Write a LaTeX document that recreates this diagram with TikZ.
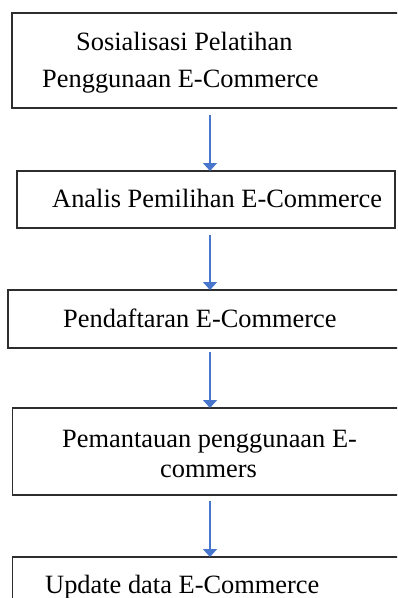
\documentclass[tikz,border=0pt]{standalone}
\usepackage{fontspec}
\setmainfont{Liberation Serif}
\usetikzlibrary{arrows.meta}
\definecolor{arrblue}{RGB}{72,118,204}
\definecolor{boxline}{RGB}{45,45,45}
\begin{document}
\begin{tikzpicture}[x=1pt,y=-1pt,
  stepbox/.style={draw=boxline,line width=1.4pt,rectangle,inner sep=0pt,outer sep=0pt},
  lbl/.style={anchor=base west,inner sep=0pt,font=\fontsize{26.4}{30}\selectfont},
  arr/.style={draw=arrblue,line width=1.6pt,-{Triangle[width=14pt,length=8pt]}}]
\useasboundingbox (0,0) rectangle (397,598);
\clip (0,0) rectangle (397,598);
\fill[white] (0,0) rectangle (397,598);
% boxes
\node[stepbox,minimum width=393pt,minimum height=95pt] (b1) at (208.5,60.5) {};
\node[stepbox,minimum width=378pt,minimum height=57pt] (b2) at (206,199.5) {};
\node[stepbox,minimum width=397pt,minimum height=58pt] (b3) at (206.5,319) {};
\node[stepbox,minimum width=392.5pt,minimum height=87pt] (b4) at (208.75,451.5) {};
\node[stepbox,minimum width=392.5pt,minimum height=63pt] (b5) at (208.75,588.5) {};
% texts
\node[lbl] (t1a) at (76,50) {Sosialisasi Pelatihan};
\node[lbl] (t1b) at (42,87) {Penggunaan E-Commerce};
\node[lbl] (t2) at (52,207) {Analis Pemilihan E-Commerce};
\node[lbl] (t3) at (63,327) {Pendaftaran E-Commerce};
\node[lbl] (t4a) at (62,447) {Pemantauan penggunaan E-};
\node[lbl] (t4b) at (160,477) {commers};
\node[lbl] (t5) at (45,593) {Update data E-Commerce};
% arrows
\coordinate (ax) at (210,0);
\draw[arr,shorten <=7pt] (b1.south -| ax) -- (b2.north -| ax);
\draw[arr,shorten <=7pt] (b2.south -| ax) -- (b3.north -| ax);
\draw[arr,shorten <=4pt] (b3.south -| ax) -- (b4.north -| ax);
\draw[arr,shorten <=6pt] (b4.south -| ax) -- (b5.north -| ax);
\end{tikzpicture}
\end{document}
